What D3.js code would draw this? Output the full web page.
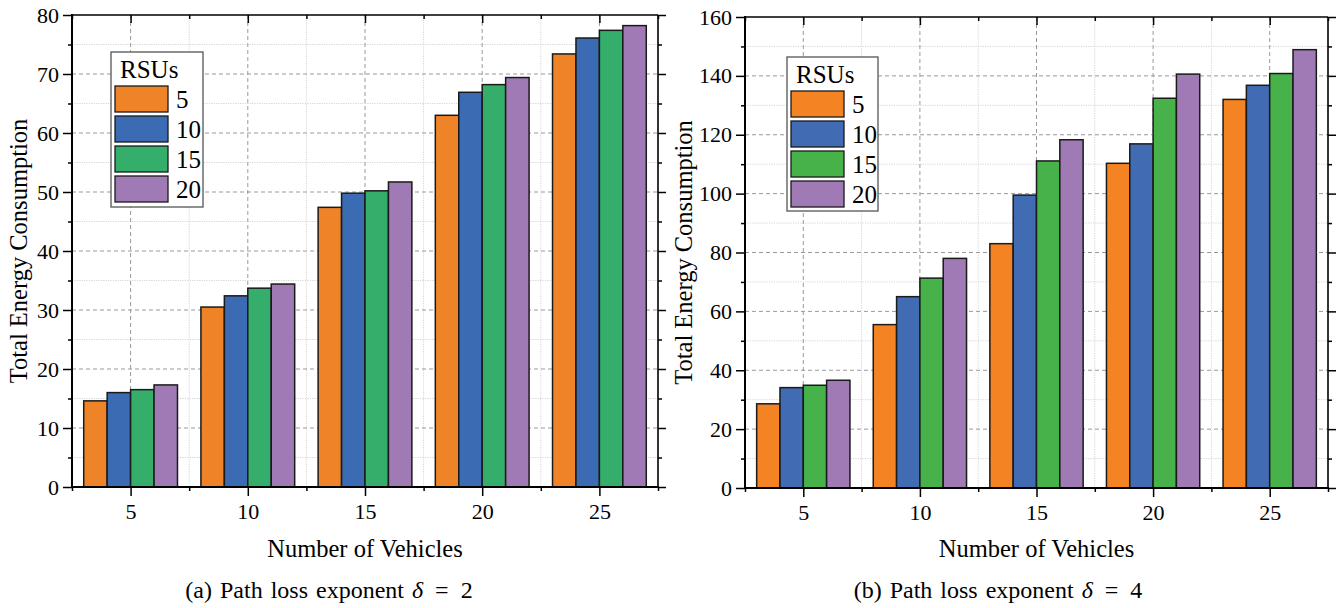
<!DOCTYPE html>
<html>
<head>
<meta charset="utf-8">
<script src="https://cdn.jsdelivr.net/npm/d3@7"></script>
<style>
  body { margin: 0; background: #fff; }
  svg { display: block; font-family: "Liberation Serif", "DejaVu Serif", serif; }
</style>
</head>
<body>
<svg id="chart" width="1340" height="608"></svg>
<script>
// data
var vehicles = [5, 10, 15, 20, 25]
var rsus = ['5', '10', '15', '20']

// path loss exponent delta = 2, one array per RSU count
var d2Rsu5  = [14.6, 30.5, 47.4, 63.0, 73.4]
var d2Rsu10 = [16.0, 32.4, 49.8, 66.9, 76.1]
var d2Rsu15 = [16.5, 33.7, 50.2, 68.2, 77.4]
var d2Rsu20 = [17.3, 34.4, 51.7, 69.4, 78.2]

// path loss exponent delta = 4
var d4Rsu5  = [28.6, 55.5, 83.0, 110.3, 132.0]
var d4Rsu10 = [34.1, 65.0, 99.5, 116.9, 136.8]
var d4Rsu15 = [34.9, 71.3, 111.1, 132.4, 140.8]
var d4Rsu20 = [36.6, 78.0, 118.3, 140.6, 148.9]

var svg = d3.select('#chart')

drawPanel({
    left: 72, right: 658, top: 15, bottom: 487,
    yMax: 80, yStep: 10,
    series: [d2Rsu5, d2Rsu10, d2Rsu15, d2Rsu20],
    colors: ['#EE8427', '#3B6BB3', '#35AD6B', '#A07AB5'],
    legend: {x: 111, y: 52, w: 92, h: 155},
    yTitleX: 27, captionX: 329, letter: '(a)', delta: '2'
})

drawPanel({
    left: 745, right: 1328, top: 17, bottom: 488,
    yMax: 160, yStep: 20,
    series: [d4Rsu5, d4Rsu10, d4Rsu15, d4Rsu20],
    colors: ['#F48423', '#416BB2', '#47B14A', '#A07AB5'],
    legend: {x: 787, y: 57, w: 91, h: 154},
    yTitleX: 692, captionX: 998, letter: '(b)', delta: '4'
})

function drawPanel(p){
    var x = d3.scaleLinear().domain([2.5, 27.5]).range([p.left, p.right])
    var y = d3.scaleLinear().domain([0, p.yMax]).range([p.bottom, p.top])
    var g = svg.append('g')

    var yMajor = d3.range(0, p.yMax + 1, p.yStep)
    var yMinor = d3.range(p.yStep / 2, p.yMax, p.yStep)
    var xMinor = d3.range(2.5, 28, 5)

    // minor grid, dotted
    g.append('g').selectAll('line').data(yMinor).join('line')
        .attr('x1', p.left).attr('x2', p.right)
        .attr('y1', d => y(d)).attr('y2', d => y(d))
        .attr('stroke', '#d4d4d4').attr('stroke-width', 1).attr('stroke-dasharray', '1.2,1.2')
    g.append('g').selectAll('line').data(xMinor.slice(1, -1)).join('line')
        .attr('x1', d => x(d)).attr('x2', d => x(d))
        .attr('y1', p.top).attr('y2', p.bottom)
        .attr('stroke', '#d4d4d4').attr('stroke-width', 1).attr('stroke-dasharray', '1.2,1.2')

    // major grid, dashed
    g.append('g').selectAll('line').data(yMajor.slice(1, -1)).join('line')
        .attr('x1', p.left).attr('x2', p.right)
        .attr('y1', d => y(d)).attr('y2', d => y(d))
        .attr('stroke', '#999').attr('stroke-width', 1).attr('stroke-dasharray', '4,3')
    g.append('g').selectAll('line').data(vehicles).join('line')
        .attr('x1', d => x(d)).attr('x2', d => x(d))
        .attr('y1', p.top).attr('y2', p.bottom)
        .attr('stroke', '#999').attr('stroke-width', 1).attr('stroke-dasharray', '4,3')

    // bars
    p.series.forEach((vals, i) => {
        g.append('g').selectAll('rect').data(vals).join('rect')
            .attr('x', (d, j) => x(vehicles[j] - 2 + i))
            .attr('width', x(3.5) - x(2.5))
            .attr('y', d => y(d))
            .attr('height', d => y(0) - y(d))
            .attr('fill', p.colors[i])
            .attr('stroke', '#1a1a1a').attr('stroke-width', 1.5)
    })

    // axes: outward on left/bottom, inward on top/right
    var fmt = d3.format('d')
    var axL = g.append('g').attr('transform', `translate(${p.left},0)`)
        .call(d3.axisLeft(y).tickValues(yMajor).tickSize(9).tickPadding(4).tickFormat(fmt))
    var axLm = g.append('g').attr('transform', `translate(${p.left},0)`)
        .call(d3.axisLeft(y).tickValues(yMinor).tickSize(4).tickFormat(''))
    var axR = g.append('g').attr('transform', `translate(${p.right},0)`)
        .call(d3.axisLeft(y).tickValues(yMajor).tickSize(-8).tickFormat(''))
    var axRm = g.append('g').attr('transform', `translate(${p.right},0)`)
        .call(d3.axisLeft(y).tickValues(yMinor).tickSize(-4).tickFormat(''))
    var axB = g.append('g').attr('transform', `translate(0,${p.bottom})`)
        .call(d3.axisBottom(x).tickValues(vehicles).tickSize(9).tickPadding(7).tickFormat(fmt))
    var axBm = g.append('g').attr('transform', `translate(0,${p.bottom})`)
        .call(d3.axisBottom(x).tickValues(xMinor).tickSize(4).tickFormat(''))
    var axT = g.append('g').attr('transform', `translate(0,${p.top})`)
        .call(d3.axisBottom(x).tickValues(vehicles).tickSize(8).tickFormat(''))
    var axTm = g.append('g').attr('transform', `translate(0,${p.top})`)
        .call(d3.axisBottom(x).tickValues(xMinor).tickSize(4).tickFormat(''))

    ;[axL, axLm, axR, axRm, axB, axBm, axT, axTm].forEach(a => {
        a.attr('font-family', null).attr('font-size', null)
        a.select('.domain').remove()
        a.selectAll('.tick line').attr('stroke', '#000').attr('stroke-width', 1.5)
        a.selectAll('.tick text').attr('fill', '#000')
            .style('font-family', '"Liberation Serif", serif').style('font-size', '22px')
    })

    // frame
    g.append('line').attr('x1', p.left).attr('x2', p.right).attr('y1', p.top).attr('y2', p.top)
        .attr('stroke', '#000').attr('stroke-width', 1.6)
    g.append('line').attr('x1', p.right).attr('x2', p.right).attr('y1', p.top).attr('y2', p.bottom)
        .attr('stroke', '#000').attr('stroke-width', 1.6)
    g.append('line').attr('x1', p.left).attr('x2', p.left).attr('y1', p.top - 1).attr('y2', p.bottom + 1)
        .attr('stroke', '#000').attr('stroke-width', 2)
    g.append('line').attr('x1', p.left - 1).attr('x2', p.right + 1).attr('y1', p.bottom).attr('y2', p.bottom)
        .attr('stroke', '#000').attr('stroke-width', 2)

    // legend
    var L = p.legend
    var lg = g.append('g')
    lg.append('rect').attr('x', L.x).attr('y', L.y).attr('width', L.w).attr('height', L.h)
        .attr('fill', '#fff').attr('stroke', '#555').attr('stroke-width', 1.3)
    lg.append('text').attr('x', L.x + 9).attr('y', L.y + 26)
        .style('font-size', '25px').text('RSUs')
    rsus.forEach((r, i) => {
        lg.append('rect').attr('x', L.x + 4).attr('y', L.y + 34 + i * 30)
            .attr('width', 53).attr('height', 26)
            .attr('fill', p.colors[i]).attr('stroke', '#1a1a1a').attr('stroke-width', 1.3)
        lg.append('text').attr('x', L.x + 65).attr('y', L.y + 56 + i * 30)
            .style('font-size', '25px').text(r)
    })

    // titles
    g.append('text').attr('transform', `translate(${p.yTitleX},${(p.top + p.bottom) / 2}) rotate(-90)`)
        .attr('text-anchor', 'middle').style('font-size', '24.5px').text('Total Energy Consumption')
    g.append('text').attr('x', (p.left + p.right) / 2).attr('y', 557)
        .attr('text-anchor', 'middle').style('font-size', '24.5px').text('Number of Vehicles')

    var cap = g.append('text').attr('x', p.captionX).attr('y', 598)
        .attr('text-anchor', 'middle').style('font-size', '24px').style('word-spacing', '2px')
    cap.append('tspan').text(p.letter + ' Path loss exponent ')
    cap.append('tspan').style('font-style', 'italic').text('δ')
    cap.append('tspan').text('\u2002=\u2002' + p.delta)
}
</script>
</body>
</html>
